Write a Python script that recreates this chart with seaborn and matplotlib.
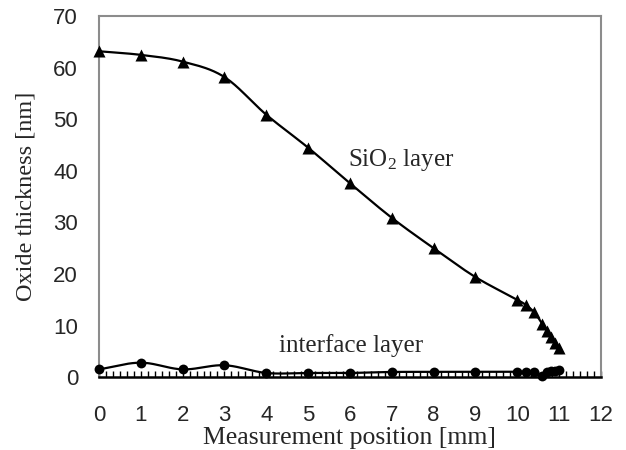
import numpy as np
import pandas as pd
import matplotlib
matplotlib.use("Agg")
import matplotlib.pyplot as plt
from matplotlib.ticker import MultipleLocator
import seaborn as sns

# ---- data ----
sio2_x = [0, 1, 2, 3, 4, 5, 6, 7, 8, 9, 10, 10.2, 10.4, 10.6, 10.7, 10.8, 10.9, 11.0]
sio2_y = [63.2, 62.5, 61.2, 58.2, 50.9, 44.5, 37.6, 30.9, 25.0, 19.4, 15.0, 14.0, 12.6, 10.3, 9.0, 7.8, 6.7, 5.6]
intf_x = [0, 1, 2, 3, 4, 5, 6, 7, 8, 9, 10, 10.2, 10.4, 10.6, 10.7, 10.8, 10.9, 11.0]
intf_y = [1.5, 2.8, 1.5, 2.3, 0.8, 0.8, 0.8, 1.0, 1.0, 1.0, 1.0, 1.0, 1.0, 0.3, 1.0, 1.1, 1.2, 1.4]
x_ticks = list(range(0, 13))
y_ticks = list(range(0, 80, 10))


def smooth(x, y, n=20):
    """Catmull-Rom style curve through the points (like Excel smoothed line)."""
    x = np.asarray(x, float); y = np.asarray(y, float)
    P = np.column_stack([x, y])
    P = np.vstack([P[0] - (P[1] - P[0]), P, P[-1] + (P[-1] - P[-2])])
    out = []
    for i in range(1, len(P) - 2):
        p0, p1, p2, p3 = P[i - 1], P[i], P[i + 1], P[i + 2]
        t = np.linspace(0, 1, n, endpoint=False)[:, None]
        m1 = (p2 - p0) / 2
        m2 = (p3 - p1) / 2
        h00 = 2 * t**3 - 3 * t**2 + 1
        h10 = t**3 - 2 * t**2 + t
        h01 = -2 * t**3 + 3 * t**2
        h11 = t**3 - t**2
        out.append(h00 * p1 + h10 * m1 + h01 * p2 + h11 * m2)
    out.append(P[-2][None, :])
    out = np.vstack(out)
    return out[:, 0], out[:, 1]


sns.set_theme(style="white")
plt.rcParams['font.family'] = ['Liberation Sans', 'DejaVu Sans']
plt.rcParams['mathtext.fontset'] = 'custom'
plt.rcParams['mathtext.rm'] = 'Liberation Serif'
plt.rcParams['mathtext.it'] = 'Liberation Serif:italic'
plt.rcParams['mathtext.bf'] = 'Liberation Serif:bold'

fig = plt.figure(figsize=(6.26, 4.5), dpi=100)
ax = fig.add_axes([0.158, 0.162, 0.802, 0.802])

for xs, ys, mk, ms in [(sio2_x, sio2_y, '^', 75), (intf_x, intf_y, 'o', 50)]:
    sx, sy = smooth(xs, ys)
    line_df = pd.DataFrame({'x': sx, 'y': sy})
    sns.lineplot(data=line_df, x='x', y='y', sort=False, color='black', lw=1.6,
                 ax=ax, estimator=None, clip_on=False)
    pts = pd.DataFrame({'x': xs, 'y': ys})
    sns.scatterplot(data=pts, x='x', y='y', marker=mk, s=ms, color='black',
                    edgecolor='black', linewidth=0, ax=ax, clip_on=False, zorder=5)

ax.set_xlim(0, 12)
ax.set_ylim(0, 70)
ax.set_xticks(x_ticks)
ax.set_yticks(y_ticks)
ax.xaxis.set_minor_locator(MultipleLocator(1 / 6))
ax.tick_params(axis='x', which='both', direction='in', length=4, width=1,
               color='black', pad=20, labelsize=16, bottom=True)
ax.tick_params(axis='y', which='both', length=0, pad=15, labelsize=16)

for side in ['left', 'top', 'right']:
    ax.spines[side].set_color('#8c8c8c')
    ax.spines[side].set_linewidth(1.5)
ax.spines['bottom'].set_color('black')
ax.spines['bottom'].set_linewidth(1.8)

serif = ['Liberation Serif', 'DejaVu Serif']
ax.set_xlabel('Measurement position [mm]', family=serif, fontsize=18.5, labelpad=1)
ax.set_ylabel('Oxide thickness [nm]', family=serif, fontsize=17.5, labelpad=12)
ax.text(5.95, 42.1, 'SiO$_2$ layer', family=serif, fontsize=18, va='center', ha='left')
ax.text(4.3, 6.2, 'interface layer', family=serif, fontsize=18, va='center', ha='left')

fig.savefig('out.png', dpi=100)
